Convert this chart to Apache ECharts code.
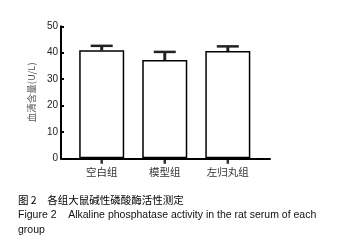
<!DOCTYPE html>
<html><head><meta charset="utf-8">
<script src="https://cdn.jsdelivr.net/npm/echarts@6/dist/echarts.min.js"></script>
<style>html,body{margin:0;padding:0;background:#fff}#c{width:342px;height:243px}</style>
</head><body><div id="c"></div>
<script>
var categories = ['空白组', '模型组', '左归丸组'];
var means = [40.9, 37.2, 40.6];
var upper = [42.6, 40.3, 42.4];
var yTicks = [0, 10, 20, 30, 40, 50];

var chart = echarts.init(document.getElementById('c'), null, {renderer: 'canvas'});
var idx = categories.map(function (_, i) { return i; });
chart.setOption({
  animation: false,
  backgroundColor: '#fff',
  title: [
    {text: '图 2　各组大鼠碱性磷酸酶活性测定', left: 13, top: 190,
     textStyle: {fontSize: 10.5, fontWeight: 'normal', color: '#000', fontFamily: 'Noto Sans CJK SC'}},
    {text: 'Figure 2    Alkaline phosphatase activity in the rat serum of each', left: 13, top: 205,
     textStyle: {fontSize: 10.5, fontWeight: 'normal', color: '#111', fontFamily: 'Liberation Sans'}},
    {text: 'group', left: 13, top: 220,
     textStyle: {fontSize: 10.5, fontWeight: 'normal', color: '#111', fontFamily: 'Liberation Sans'}}
  ],
  grid: {left: 61, top: 26.3, width: 209, height: 132},
  xAxis: {
    type: 'value', min: -0.6455, max: 2.669,
    splitLine: {show: false},
    axisLine: {show: true, onZero: false, lineStyle: {color: '#000', width: 2}},
    axisTick: {show: false},
    axisLabel: {customValues: idx, margin: 8, fontSize: 10.5, color: '#333', fontFamily: 'Noto Sans CJK SC',
      formatter: function (v) { return categories[Math.round(v)] || ''; }}
  },
  yAxis: {
    type: 'value', min: 0, max: 50, interval: 10,
    name: '血清含量(U/L)', nameLocation: 'middle', nameGap: 24, nameRotate: 90,
    nameTextStyle: {fontSize: 9.5, color: '#555', fontFamily: 'Noto Sans CJK SC'},
    splitLine: {show: false},
    axisLine: {show: true, onZero: false, lineStyle: {color: '#000', width: 2}},
    axisTick: {show: true, inside: true, length: 3, lineStyle: {color: '#000', width: 2}},
    axisLabel: {margin: 3, fontSize: 10, color: '#222', fontFamily: 'Liberation Sans',
      formatter: function (v) { return yTicks.indexOf(v) >= 0 ? String(v) : ''; }}
  },
  series: [
    {
      type: 'custom',
      z: 1,
      renderItem: function (params, api) {
        var x = api.value(0), top = api.value(1);
        var pTop = api.coord([x, top]);
        var pBase = api.coord([x, api.value(2)]);
        var cap = 11;
        return {type: 'group', children: [
          {type: 'line', shape: {x1: pTop[0], y1: pTop[1], x2: pBase[0], y2: pBase[1]},
           style: {stroke: '#222', lineWidth: 3}},
          {type: 'line', shape: {x1: pTop[0] - cap, y1: pTop[1], x2: pTop[0] + cap, y2: pTop[1]},
           style: {stroke: '#222', lineWidth: 2.5}}
        ]};
      },
      data: idx.map(function (i) { return [i, upper[i], means[i]]; })
    },
    {
      type: 'bar', z: 2,
      barWidth: 45,
      itemStyle: {color: '#fff', borderColor: '#000', borderWidth: 1.5},
      data: idx.map(function (i) { return [i, means[i]]; })
    },
    {
      type: 'scatter', z: 6, clip: false, silent: true,
      symbol: 'rect', symbolSize: [2.5, 5], symbolOffset: [0, 3],
      itemStyle: {color: '#000'},
      data: idx.map(function (i) { return [i, 0]; })
    }
  ]
});
</script></body></html>
